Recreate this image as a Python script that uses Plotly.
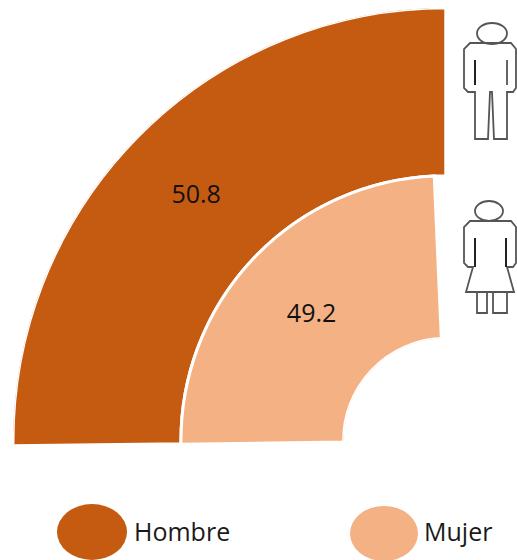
import plotly.graph_objects as go

categories = ["Hombre", "Mujer"]
values = [50.8, 49.2]
bases = [49.2, 0]
colors = ["#C55A11", "#F4B183"]
centers = [135.35, 136.65]
spans = [90.7, 88.3]
label_angles = [135.7, 137]

W, H = 517, 560
FONT = "Open Sans"
INK = "#1a1a1a"

def X(v):
    return v / W

def Y(v):
    return 1 - v / H

def path(points, close=True):
    s = "M " + " L ".join(f"{X(a):.5f},{Y(b):.5f}" for a, b in points)
    return s + (" Z" if close else "")

fig = go.Figure()
for i, c in enumerate(categories):
    fig.add_trace(go.Barpolar(
        r=[values[i]], base=[bases[i]], theta=[centers[i]], width=[spans[i]],
        marker=dict(color=colors[i], line=dict(color="white", width=3)),
        name=c, showlegend=False))
    fig.add_trace(go.Scatterpolar(
        r=[bases[i] + values[i] / 2], theta=[label_angles[i]], mode="text",
        text=[f"{values[i]:.1f}"], textfont=dict(family=FONT, size=25, color="#111111"),
        textposition="middle center", showlegend=False))

shapes = []
line = dict(color="#555555", width=1.8)
dark = dict(color="#222222", width=2)
# man icon
shapes.append(dict(type="circle", xref="paper", yref="paper", x0=X(477), x1=X(507), y0=Y(23), y1=Y(44), line=line))
man = [(470, 43), (511, 43), (516, 49), (516, 88), (513, 92), (507, 92), (507, 139), (494, 139), (492, 92),
       (490, 92), (488, 139), (475, 139), (475, 92), (468, 92), (464, 88), (464, 49)]
shapes.append(dict(type="path", xref="paper", yref="paper", path=path(man), line=line))
shapes.append(dict(type="path", xref="paper", yref="paper", path=path([(475, 60), (475, 85)], False), line=dark))
shapes.append(dict(type="path", xref="paper", yref="paper", path=path([(507, 60), (507, 85)], False), line=line))
# woman icon
shapes.append(dict(type="circle", xref="paper", yref="paper", x0=X(475), x1=X(503), y0=Y(201), y1=Y(221), line=line))
woman = [(470, 221), (511, 221), (516, 227), (516, 263), (513, 267), (507, 267), (514, 292), (466, 292), (473, 267),
         (468, 267), (464, 263), (464, 227)]
shapes.append(dict(type="path", xref="paper", yref="paper", path=path(woman), line=line))
shapes.append(dict(type="path", xref="paper", yref="paper", path=path([(475, 238), (475, 267)], False), line=dark))
shapes.append(dict(type="path", xref="paper", yref="paper", path=path([(506, 238), (506, 267)], False), line=dark))
shapes.append(dict(type="path", xref="paper", yref="paper", path=path([(477, 292), (477, 313), (487, 313), (487, 292)], False), line=line))
shapes.append(dict(type="path", xref="paper", yref="paper", path=path([(493, 292), (493, 313), (507, 313), (507, 292)], False), line=line))
# legend ellipses
shapes.append(dict(type="circle", xref="paper", yref="paper", x0=X(57), x1=X(127), y0=Y(504), y1=Y(560), fillcolor=colors[0], line=dict(width=0)))
shapes.append(dict(type="circle", xref="paper", yref="paper", x0=X(350), x1=X(418), y0=Y(506), y1=Y(561), fillcolor=colors[1], line=dict(width=0)))

annotations = [
    dict(x=X(132), y=Y(531), xref="paper", yref="paper", text=categories[0], showarrow=False,
         xanchor="left", yanchor="middle", font=dict(family=FONT, size=25, color=INK)),
    dict(x=X(422), y=Y(531), xref="paper", yref="paper", text=categories[1], showarrow=False,
         xanchor="left", yanchor="middle", font=dict(family=FONT, size=25, color=INK)),
]

fig.update_layout(
    width=W, height=H, margin=dict(l=0, r=0, t=0, b=0),
    paper_bgcolor="white", plot_bgcolor="white",
    polar=dict(
        domain=dict(x=[X(13), X(483.5)], y=[Y(479), Y(7)]),
        sector=[85, 185], hole=0.236, bgcolor="rgba(0,0,0,0)",
        radialaxis=dict(range=[0, 100], visible=False),
        angularaxis=dict(visible=False, direction="counterclockwise"),
        barmode="overlay",
    ),
    shapes=shapes, annotations=annotations,
)
fig.write_html("out.html", config=dict(displayModeBar=False),
               post_script="document.body.style.margin='0';document.documentElement.style.overflow='hidden';")
